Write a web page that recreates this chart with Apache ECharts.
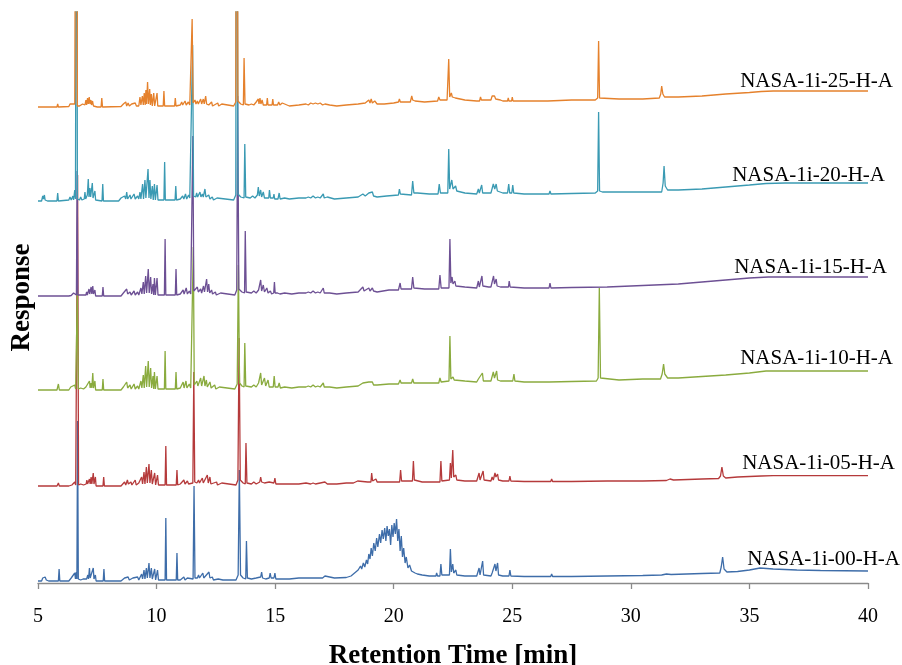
<!DOCTYPE html>
<html>
<head>
<meta charset="utf-8">
<script src="https://cdn.jsdelivr.net/npm/echarts@6/dist/echarts.min.js"></script>
<style>
	html, body { margin: 0; padding: 0; background: #fff; }
	#chartGC { width: 902px; height: 665px; }
</style>
</head>
<body>
<div id="chartGC"></div>
<script type="text/javascript">
	// retention time [min], response (relative to each trace's own baseline)
	var names = ['NASA-1i-00-H-A', 'NASA-1i-05-H-A', 'NASA-1i-10-H-A', 'NASA-1i-15-H-A', 'NASA-1i-20-H-A', 'NASA-1i-25-H-A'];
	var stackOffset = [2, 97, 193, 287, 382, 476];
	var xTicks = [5, 10, 15, 20, 25, 30, 35, 40];

	var trace00 = [[5.0,0],[5.15,0],[5.2,3],[5.25,1],[5.3,4],[5.35,1],[5.45,0],[5.86,0],[5.89,12],[5.92,0],[6.3,0],[6.4,3],[6.45,1],[6.55,8],[6.58,2],[6.61,9],[6.64,2],[6.67,160],[6.7,2],[6.8,1],[6.9,2],[7.05,2],[7.1,6],[7.13,2],[7.17,13],[7.2,3],[7.25,5],[7.28,2],[7.33,13],[7.36,2],[7.42,6],[7.45,0],[7.75,0],[7.78,12],[7.81,0],[8.5,0],[8.65,3],[8.7,1],[8.8,4],[8.85,1],[9.0,3],[9.05,1],[9.2,4],[9.25,1],[9.37,7],[9.41,2],[9.47,11],[9.51,2],[9.57,13],[9.61,3],[9.68,18],[9.72,3],[9.78,13],[9.82,2],[9.92,12],[9.96,1],[10.04,11],[10.08,1],[10.36,1],[10.39,63],[10.42,1],[10.83,1],[10.86,28],[10.89,1],[11.0,1],[11.15,4],[11.2,1],[11.3,3],[11.35,1],[11.54,2],[11.58,95],[11.62,3],[11.72,3],[11.77,6],[11.81,3],[11.95,8],[11.99,3],[12.21,9],[12.25,3],[12.35,4],[12.4,1],[12.6,2],[12.8,1],[13.35,1],[13.44,6],[13.49,111],[13.54,6],[13.65,3],[13.76,2],[13.79,40],[13.83,3],[14.0,2],[14.2,3],[14.39,4],[14.43,9],[14.47,3],[14.55,5],[14.6,2],[14.75,3],[14.79,8],[14.83,3],[14.95,3],[14.99,8],[15.03,2],[15.2,2],[15.25,4],[15.3,2],[15.6,2],[16.0,3],[16.3,3],[16.6,3],[16.8,3],[17.0,3],[17.1,5],[17.15,3],[17.5,3],[18.0,3.5],[18.2,5],[18.3,7],[18.4,9],[18.5,11],[18.55,9],[18.6,15],[18.65,12],[18.72,18],[18.78,14],[18.85,21],[18.9,17],[18.95,27],[19.0,22],[19.05,33],[19.1,25],[19.16,38],[19.22,30],[19.28,43],[19.33,34],[19.4,47],[19.45,38],[19.51,51],[19.56,42],[19.62,53],[19.67,40],[19.72,55],[19.77,45],[19.82,52],[19.87,36],[19.92,56],[19.97,44],[20.02,58],[20.07,47],[20.12,62],[20.17,40],[20.22,52],[20.27,30],[20.32,45],[20.37,24],[20.42,33],[20.48,18],[20.53,24],[20.6,13],[20.67,16],[20.75,10],[20.82,12],[20.9,8],[21.0,7],[21.2,6],[21.5,5],[21.78,5],[21.81,8],[21.85,5],[21.95,5],[21.99,17],[22.03,6],[22.35,6],[22.39,32],[22.43,9],[22.49,17],[22.53,8],[22.62,11],[22.66,6],[23.0,5],[23.5,5],[23.6,13],[23.64,6],[23.71,5],[23.75,20],[23.79,6],[24.1,5],[24.15,8],[24.2,6],[24.27,17],[24.31,10],[24.38,18],[24.42,6],[24.6,5],[24.86,5],[24.9,11],[24.94,5],[25.5,4.5],[26.0,4.5],[26.62,4.5],[26.66,7],[26.7,4.5],[27.5,4.5],[29.0,5],[30.5,5.5],[31.3,6],[31.5,7],[31.7,6.5],[33.0,7.5],[33.75,8],[33.81,14],[33.87,24],[33.93,12],[34.05,9],[34.5,9.5],[35.0,11],[35.45,13],[36.0,12],[37.0,11],[38.0,10.5],[40.0,10]];

	var trace05 = [[5.0,0],[5.8,0],[5.86,3],[5.9,0],[6.3,0],[6.38,2],[6.43,1],[6.55,4],[6.59,1],[6.63,1],[6.67,311],[6.71,1],[6.8,2],[6.88,3],[6.92,1],[7.03,2],[7.06,6],[7.09,2],[7.17,7],[7.2,2],[7.24,9],[7.27,2],[7.33,13],[7.36,2],[7.42,9],[7.45,0],[7.74,0],[7.77,9],[7.8,0],[8.5,0],[8.65,4],[8.7,1],[8.77,6],[8.81,2],[8.92,4],[8.96,1],[9.1,6],[9.14,1],[9.25,3],[9.3,1],[9.37,9],[9.41,2],[9.47,14],[9.51,2],[9.57,19],[9.61,3],[9.68,22],[9.72,3],[9.78,16],[9.82,2],[9.92,13],[9.96,1],[10.04,11],[10.08,1],[10.36,1],[10.39,40],[10.42,1],[10.83,1],[10.86,16],[10.89,1],[11.0,2],[11.15,6],[11.2,2],[11.3,5],[11.35,2],[11.53,3],[11.57,114],[11.61,4],[11.7,3],[11.77,6],[11.81,3],[11.93,8],[11.97,3],[12.14,11],[12.18,3],[12.25,9],[12.29,2],[12.53,4],[12.57,1],[12.75,3],[12.8,1],[13.35,1],[13.43,6],[13.48,148],[13.53,6],[13.65,3],[13.74,2],[13.77,43],[13.81,3],[14.0,2],[14.1,4],[14.2,2],[14.35,4],[14.39,9],[14.43,4],[14.5,6],[14.55,3],[14.75,4],[14.79,6],[14.83,3],[14.95,3],[14.99,8],[15.03,2],[15.2,2],[15.25,4],[15.3,2],[15.5,2],[15.8,2],[16.0,2],[16.3,3],[16.5,2],[16.6,3],[16.7,2],[16.9,3],[17.1,4],[17.2,2],[17.6,2],[18.0,3],[18.3,3],[18.48,5],[18.52,3],[18.9,4],[19.04,4],[19.07,13],[19.11,5],[19.25,7],[19.3,4],[19.8,4],[20.25,4],[20.29,16],[20.33,5],[20.79,5],[20.83,25],[20.87,6],[21.2,4],[21.8,4],[21.95,4],[21.99,25],[22.03,5],[22.35,6],[22.39,23],[22.43,8],[22.49,36],[22.53,9],[22.62,11],[22.66,6],[23.0,5],[23.5,5],[23.6,13],[23.64,6],[23.72,5],[23.77,15],[23.81,6],[24.1,5],[24.15,9],[24.2,6],[24.27,13],[24.31,9],[24.38,12],[24.42,6],[24.6,5],[24.86,5],[24.9,10],[24.94,5],[25.5,4.5],[26.0,4.5],[26.62,4.5],[26.66,7],[26.7,4.5],[27.5,4.5],[29.0,5],[30.5,5],[31.5,5.5],[31.65,7],[31.8,6],[33.0,7],[33.7,7.5],[33.78,10],[33.84,19],[33.9,10],[34.0,8],[34.5,9],[35.5,10],[36.0,10.3],[40.0,10.3]];

	var trace10 = [[5.0,0],[5.8,0],[5.86,6],[5.9,0],[6.3,0],[6.38,3],[6.43,1],[6.55,5],[6.59,1],[6.62,1],[6.66,100],[6.7,1],[6.8,2],[6.88,3],[6.92,1],[7.02,3],[7.06,1],[7.17,9],[7.2,2],[7.24,7],[7.27,2],[7.31,17],[7.34,2],[7.4,9],[7.43,0],[7.71,0],[7.74,11],[7.77,0],[8.5,0],[8.6,3],[8.65,1],[8.74,8],[8.78,2],[8.88,5],[8.93,1],[9.05,6],[9.1,1],[9.2,4],[9.25,1],[9.34,9],[9.38,2],[9.44,15],[9.48,2],[9.54,24],[9.58,3],[9.65,29],[9.69,3],[9.75,22],[9.79,2],[9.85,14],[9.88,1],[9.91,18],[9.95,1],[10.02,14],[10.06,1],[10.33,1],[10.36,39],[10.39,1],[10.79,1],[10.82,18],[10.85,1],[11.0,2],[11.12,8],[11.16,2],[11.24,9],[11.28,2],[11.38,6],[11.44,2],[11.51,4],[11.55,143],[11.59,5],[11.66,5],[11.7,9],[11.74,4],[11.86,12],[11.9,4],[12.0,14],[12.04,4],[12.1,10],[12.14,3],[12.25,8],[12.3,2],[12.45,5],[12.5,1],[12.65,3],[12.7,1],[13.3,1],[13.4,6],[13.45,125],[13.5,7],[13.6,4],[13.69,3],[13.72,47],[13.76,4],[14.0,3],[14.1,5],[14.2,3],[14.3,7],[14.39,17],[14.43,5],[14.55,12],[14.6,4],[14.7,10],[14.75,3],[14.92,3],[14.96,14],[15.0,3],[15.12,3],[15.17,7],[15.22,2],[15.4,3],[15.7,2],[16.0,3],[16.3,3],[16.4,4],[16.5,3],[16.6,5],[16.7,3],[16.8,4],[16.9,3],[17.03,7],[17.07,3],[17.3,3],[17.6,2],[18.0,3],[18.5,4],[18.7,7],[18.75,5],[18.95,8],[19.0,6],[19.1,8],[19.15,5],[19.3,5],[19.8,6],[20.2,6],[20.27,10],[20.31,7],[20.75,7],[20.8,11],[20.85,7],[21.3,7],[21.9,7],[21.95,12],[22.0,8],[22.33,9],[22.37,54],[22.41,11],[22.5,13],[22.55,10],[23.0,9],[23.5,8],[23.57,11],[23.61,9],[23.74,17],[23.78,9],[24.1,9],[24.2,18],[24.25,12],[24.34,19],[24.38,10],[24.5,9],[24.84,9],[24.87,11],[24.91,9],[25.02,9],[25.07,16],[25.11,9],[25.5,8],[26.0,8],[26.55,8],[26.59,10],[26.63,8],[27.5,8.5],[28.55,9],[28.62,12],[28.67,102],[28.72,12],[28.8,10],[29.5,10],[30.5,11],[31.25,11],[31.32,16],[31.38,26],[31.43,16],[31.55,12],[32.0,12],[33.0,13.5],[34.0,15],[35.0,17],[35.7,19],[37.0,19],[40.0,19]];

	var trace15 = [[5.0,0],[5.8,0],[5.86,2],[5.9,0],[6.3,0],[6.35,2],[6.4,0.5],[6.5,3],[6.55,1],[6.62,1],[6.65,125],[6.68,1],[6.8,1],[6.85,3],[6.9,1],[7.02,1],[7.05,4],[7.08,1],[7.15,7],[7.18,2],[7.24,9],[7.27,2],[7.31,10],[7.34,2],[7.4,6],[7.43,0],[7.71,0],[7.74,9],[7.77,0],[8.5,0],[8.6,3],[8.65,1],[8.74,7],[8.78,2],[8.88,4],[8.93,1],[9.05,5],[9.1,1],[9.2,4],[9.25,1],[9.34,8],[9.38,2],[9.44,14],[9.48,2],[9.54,20],[9.58,3],[9.65,27],[9.69,3],[9.75,19],[9.79,2],[9.85,12],[9.88,1],[9.91,18],[9.95,1],[10.02,18],[10.06,1],[10.33,1],[10.36,57],[10.39,1],[10.79,1],[10.82,27],[10.85,1],[11.0,2],[11.12,6],[11.16,2],[11.25,8],[11.3,2],[11.38,5],[11.44,2],[11.49,4],[11.53,160],[11.57,5],[11.65,4],[11.72,9],[11.76,4],[11.86,7],[11.9,3],[11.98,10],[12.02,4],[12.11,17],[12.15,4],[12.2,12],[12.24,3],[12.32,6],[12.36,2],[12.48,4],[12.52,1],[12.7,3],[12.75,1],[13.3,1],[13.38,6],[13.42,200],[13.47,7],[13.6,4],[13.71,3],[13.74,65],[13.78,4],[14.0,3],[14.1,5],[14.2,3],[14.3,6],[14.39,16],[14.43,5],[14.5,11],[14.55,4],[14.65,8],[14.7,3],[14.8,5],[14.85,2],[14.94,3],[14.97,14],[15.0,3],[15.1,3],[15.15,5],[15.2,2],[15.4,3],[15.7,2],[16.0,3],[16.3,3],[16.4,4],[16.5,3],[16.6,5],[16.7,3],[16.8,4],[16.9,3],[17.03,8],[17.07,3],[17.3,3],[17.6,2],[18.0,3],[18.5,4],[18.7,9],[18.75,5],[18.95,8],[19.0,5],[19.1,8],[19.15,5],[19.3,4],[19.8,6],[20.2,6],[20.27,13],[20.31,7],[20.75,7],[20.8,19],[20.85,8],[21.3,7],[21.9,7],[21.95,21],[22.0,8],[22.33,8],[22.37,57],[22.41,13],[22.46,19],[22.5,12],[22.58,15],[22.62,10],[23.0,9],[23.5,8],[23.57,15],[23.61,9],[23.72,20],[23.76,10],[24.0,9],[24.05,11],[24.1,9],[24.21,20],[24.25,12],[24.32,17],[24.36,10],[24.5,9],[24.84,9],[24.87,15],[24.91,9],[25.5,8],[26.0,8],[26.55,8],[26.59,13],[26.63,8],[27.5,8.5],[29.0,9],[30.0,10],[31.0,11],[32.0,12],[33.0,14],[34.0,16],[35.0,18],[35.8,19],[37.0,19],[40.0,19]];

	var trace20 = [[5.0,0],[5.15,0],[5.2,5],[5.23,2],[5.27,6],[5.3,1],[5.4,0],[5.8,0],[5.83,8],[5.86,0],[6.3,1],[6.35,4],[6.4,1],[6.47,5],[6.5,1],[6.55,11],[6.58,2],[6.6,2],[6.63,600],[6.66,2],[6.75,1],[6.8,4],[6.85,1],[6.95,2],[6.98,9],[7.01,2],[7.08,6],[7.12,22],[7.15,4],[7.19,13],[7.22,4],[7.29,18],[7.32,3],[7.4,10],[7.43,1],[7.7,0],[7.73,17],[7.76,0],[8.4,0],[8.5,3],[8.55,1],[8.65,5],[8.7,2],[8.74,9],[8.78,2],[8.88,6],[8.92,2],[9.05,7],[9.1,2],[9.2,5],[9.25,2],[9.3,9],[9.34,2],[9.41,17],[9.45,2],[9.51,21],[9.55,3],[9.64,32],[9.68,3],[9.72,21],[9.76,2],[9.82,15],[9.86,1],[9.91,17],[9.95,1],[10.02,16],[10.06,1],[10.31,1],[10.34,39],[10.37,1],[10.78,1],[10.81,15],[10.84,1],[11.0,2],[11.1,5],[11.15,2],[11.22,7],[11.27,2],[11.35,6],[11.4,3],[11.48,4],[11.52,156],[11.56,5],[11.65,4],[11.69,8],[11.73,4],[11.83,9],[11.87,4],[11.93,7],[11.97,4],[12.04,12],[12.08,4],[12.2,6],[12.25,2],[12.35,4],[12.4,1],[12.55,3],[12.6,1],[13.25,1],[13.34,6],[13.38,600],[13.43,7],[13.55,4],[13.69,3],[13.72,57],[13.76,4],[13.95,3],[14.05,5],[14.15,3],[14.25,6],[14.29,14],[14.33,5],[14.39,11],[14.43,4],[14.5,9],[14.55,3],[14.73,3],[14.76,11],[14.8,3],[14.92,3],[14.95,7],[14.98,2],[15.12,2],[15.17,8],[15.21,2],[15.4,3],[15.6,2],[16.0,3],[16.3,3],[16.4,4],[16.5,3],[16.6,5],[16.7,3],[16.8,4],[16.9,3],[17.03,7],[17.07,3],[17.2,4],[17.5,2],[18.0,3],[18.5,4],[18.7,7],[18.8,5],[18.95,8],[19.0,6],[19.1,9],[19.15,5],[19.3,4],[19.7,5],[20.2,6],[20.24,12],[20.28,7],[20.75,6],[20.8,20],[20.85,8],[21.0,8],[21.5,7],[21.87,7],[21.92,17],[21.97,8],[22.28,8],[22.32,52],[22.36,12],[22.45,21],[22.5,12],[22.61,15],[22.66,10],[23.0,8],[23.5,7],[23.57,12],[23.61,8],[23.71,16],[23.75,8],[24.1,8],[24.2,17],[24.26,12],[24.32,17],[24.37,10],[24.6,8],[24.8,8],[24.85,17],[24.89,8],[24.98,8],[25.02,16],[25.06,8],[25.5,7],[26.0,7],[26.55,7],[26.59,10],[26.63,7],[27.5,7.5],[28.5,8],[28.6,10],[28.64,89],[28.68,10],[28.8,9],[29.5,9],[30.5,9],[31.3,9],[31.36,18],[31.4,35],[31.45,15],[31.55,11],[32.0,11],[33.0,12],[34.0,14],[35.0,16],[35.7,17.5],[36.5,18],[40.0,18]];

	var trace25 = [[5.0,0],[5.8,0],[5.83,3],[5.86,0],[6.3,0.5],[6.35,3],[6.4,1],[6.45,3],[6.5,1],[6.55,3],[6.6,1],[6.63,600],[6.66,1],[6.75,1],[6.78,3],[6.82,1],[6.88,3],[6.93,1],[6.98,2],[7.02,7],[7.05,2],[7.09,9],[7.12,3],[7.16,10],[7.19,3],[7.23,7],[7.26,2],[7.3,6],[7.34,1],[7.5,0],[7.66,0],[7.69,9],[7.72,0],[8.5,0.5],[8.6,3],[8.65,1],[8.7,5],[8.74,1],[8.8,4],[8.85,1],[8.95,3],[9.0,1],[9.1,4],[9.15,1],[9.2,3],[9.25,1],[9.3,10],[9.34,2],[9.4,11],[9.44,2],[9.48,14],[9.52,2],[9.55,17],[9.58,3],[9.62,25],[9.66,3],[9.71,18],[9.74,2],[9.78,13],[9.82,1],[9.88,14],[9.92,1],[10.02,14],[10.05,1],[10.28,1],[10.31,16],[10.34,1],[10.76,1],[10.79,9],[10.82,1],[11.0,2],[11.06,5],[11.1,2],[11.2,6],[11.25,2],[11.34,5],[11.4,2],[11.46,3],[11.5,88],[11.54,4],[11.62,7],[11.66,3],[11.72,6],[11.76,3],[11.86,8],[11.9,3],[11.97,8],[12.01,3],[12.07,11],[12.11,3],[12.16,5],[12.2,2],[12.32,5],[12.36,1],[12.58,4],[12.62,1],[12.75,3],[12.8,1],[13.25,1],[13.34,5],[13.38,600],[13.43,6],[13.55,3],[13.66,2],[13.69,49],[13.73,3],[13.9,2],[14.0,3],[14.1,2],[14.2,5],[14.25,3],[14.29,8],[14.32,3],[14.36,9],[14.4,3],[14.45,7],[14.5,2],[14.64,2],[14.67,9],[14.7,2],[14.87,2],[14.9,8],[14.93,2],[15.1,2],[15.15,5],[15.2,2],[15.3,4],[15.35,2],[15.6,1],[16.0,2],[16.3,3],[16.4,2],[16.5,4],[16.6,3],[16.7,4],[16.8,3],[16.9,4],[17.0,2],[17.1,3],[17.3,2],[17.6,1],[18.0,2],[18.5,3],[18.8,4],[18.95,7],[19.0,4],[19.05,8],[19.1,4],[19.2,6],[19.3,3],[19.6,3],[20.0,4],[20.2,5],[20.24,8],[20.28,5],[20.7,5],[20.76,11],[20.8,7],[20.9,6],[21.3,5],[21.85,6],[21.9,10],[21.95,7],[22.25,7],[22.32,48],[22.36,10],[22.43,14],[22.47,10],[22.6,9],[23.0,7],[23.5,6],[23.62,6],[23.66,10],[23.7,7],[24.1,7],[24.15,11],[24.2,9],[24.25,11],[24.3,8],[24.5,7],[24.6,6],[24.8,6],[24.83,9],[24.86,6],[24.97,6],[25.0,10],[25.03,6],[25.5,6],[26.0,6],[26.5,6],[26.53,8],[26.56,6],[27.5,7],[28.5,7],[28.6,9],[28.64,66],[28.68,9],[28.75,8],[29.5,8],[30.5,8],[31.2,9],[31.26,13],[31.3,21],[31.35,13],[31.42,10],[32.0,10],[33.0,11],[34.0,13],[35.0,14.5],[35.5,15.5],[36.0,16],[37.0,16],[38.0,16],[40.0,16]];

	var traces = [trace00, trace05, trace10, trace15, trace20, trace25];
	var colors = ['#3e6da9', '#b53a3b', '#8aab3e', '#6d5094', '#3a9ab3', '#e5812c'];
	// label nudge (px) from the end of each trace: [right, up]
	var labelShift = [[32, -12], [27, -12], [25, -13], [19, -10], [17, -8], [25, -10]];

	var serif = "'Liberation Serif', 'Times New Roman', serif";

	var series = traces.map(function (tr, i) {
		var off = stackOffset[i];
		var last = tr[tr.length - 1];
		return {
			name: names[i],
			type: 'line',
			symbol: 'none',
			showSymbol: false,
			silent: true,
			animation: false,
			lineStyle: { color: colors[i], width: 1.3 },
			itemStyle: { color: colors[i] },
			data: tr.map(function (p) { return [p[0], p[1] + off]; }),
			markPoint: {
				animation: false,
				symbol: 'circle',
				symbolSize: 0,
				itemStyle: { color: 'rgba(0,0,0,0)' },
				label: {
					show: true,
					position: 'inside',
					align: 'right',
					verticalAlign: 'middle',
					offset: labelShift[i],
					formatter: names[i],
					color: '#000',
					fontFamily: serif,
					fontSize: 21
				},
				data: [{ coord: [last[0], last[1] + off] }]
			}
		};
	});

	var chartGC = echarts.init(document.getElementById('chartGC'));
	var option_gc = {
		backgroundColor: '#fff',
		animation: false,
		grid: {
			left: 38,
			right: 34,
			top: 12,
			bottom: 82,
			containLabel: false,
			outerBoundsMode: 'none'
		},
		xAxis: {
			type: 'value',
			min: xTicks[0],
			max: xTicks[xTicks.length - 1],
			interval: 5,
			name: 'Retention Time [min]',
			nameLocation: 'middle',
			nameGap: 60,
			nameTextStyle: {
				color: '#000',
				fontFamily: serif,
				fontSize: 27,
				fontWeight: 'bold'
			},
			axisLine: { lineStyle: { color: '#8a8a8a', width: 1.3 } },
			axisTick: { show: true, length: 6, lineStyle: { color: '#8a8a8a', width: 1.3 } },
			axisLabel: {
				color: '#000',
				fontFamily: serif,
				fontSize: 20,
				margin: 24
			},
			splitLine: { show: false }
		},
		yAxis: {
			type: 'value',
			min: 0,
			max: 571,
			name: 'Response',
			nameLocation: 'middle',
			nameRotate: 90,
			nameGap: 2,
			nameTextStyle: {
				color: '#000',
				fontFamily: serif,
				fontSize: 27,
				fontWeight: 'bold'
			},
			axisLine: { show: false },
			axisTick: { show: false },
			axisLabel: { show: false },
			splitLine: { show: false }
		},
		series: series
	};
	chartGC.setOption(option_gc);
</script>
</body>
</html>
